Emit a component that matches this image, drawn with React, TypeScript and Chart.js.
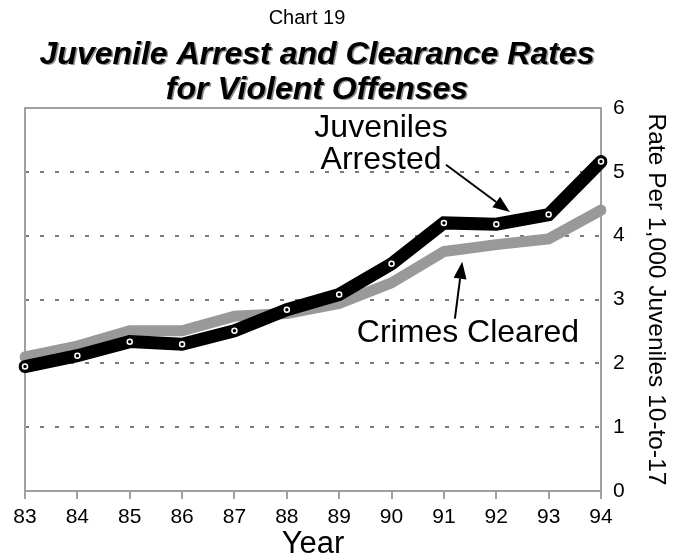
import React, { useEffect, useRef } from 'react';
import { Chart, registerables } from 'chart.js';

Chart.register(...registerables);

// Years (19xx) along the bottom axis
const years = ['83', '84', '85', '86', '87', '88', '89', '90', '91', '92', '93', '94'];

// Rates per 1,000 juveniles aged 10 to 17
const juvenilesArrested = [1.95, 2.12, 2.34, 2.3, 2.51, 2.84, 3.08, 3.56, 4.2, 4.18, 4.33, 5.16];
const crimesCleared = [2.1, 2.27, 2.51, 2.51, 2.74, 2.78, 2.94, 3.26, 3.75, 3.86, 3.95, 4.4];

// Right-hand rate axis
const rateMin = 0;
const rateMax = 6;
const rateStep = 1;

const titleLines = ['Chart 19', 'Juvenile Arrest and Clearance Rates', 'for Violent Offenses'];
const yAxisTitle = 'Rate Per 1,000 Juveniles 10-to-17';
const xAxisTitle = 'Year';
const arrestedLabel = ['Juveniles', 'Arrested'];
const clearedLabel = 'Crimes Cleared';

const FONT = 'Arial, "Liberation Sans", Helvetica, sans-serif';
const FRAME = '#a0a0a0';
const GRID = '#7a7a7a';

function drawArrow(ctx: CanvasRenderingContext2D, x1: number, y1: number, x2: number, y2: number) {
  const ang = Math.atan2(y2 - y1, x2 - x1);
  const head = 17;
  const half = 6.5;
  const bx = x2 - head * Math.cos(ang);
  const by = y2 - head * Math.sin(ang);
  ctx.beginPath();
  ctx.moveTo(x1, y1);
  ctx.lineTo(bx, by);
  ctx.lineWidth = 2;
  ctx.strokeStyle = '#000';
  ctx.stroke();
  ctx.beginPath();
  ctx.moveTo(x2, y2);
  ctx.lineTo(bx + half * Math.sin(ang), by - half * Math.cos(ang));
  ctx.lineTo(bx - half * Math.sin(ang), by + half * Math.cos(ang));
  ctx.closePath();
  ctx.fillStyle = '#000';
  ctx.fill();
}

// Frame around the plot area plus the stacked heading
const framePlugin = {
  id: 'frameAndHeading',
  beforeDatasetsDraw(chart: any) {
    const { ctx, chartArea: a } = chart;
    ctx.save();
    ctx.strokeStyle = FRAME;
    ctx.lineWidth = 2;
    ctx.strokeRect(a.left, a.top, a.right - a.left, a.bottom - a.top);
    ctx.restore();
  },
  afterDraw(chart: any) {
    const { ctx, chartArea: a } = chart;
    const cx = (a.left + a.right) / 2;
    ctx.save();
    ctx.textAlign = 'center';
    ctx.textBaseline = 'middle';
    ctx.fillStyle = '#000';
    ctx.font = `20px ${FONT}`;
    ctx.fillText(titleLines[0], cx - 6, 18);
    ctx.shadowColor = 'rgba(0,0,0,0.45)';
    ctx.shadowOffsetX = 1.5;
    ctx.shadowOffsetY = 1.5;
    ctx.font = `italic bold 32px ${FONT}`;
    ctx.fillText(titleLines[1], cx + 4, 55);
    ctx.fillText(titleLines[2], cx + 4, 90);
    ctx.restore();
  },
};

// Callout labels with arrows pointing at each series
const calloutPlugin = {
  id: 'callouts',
  afterDatasetsDraw(chart: any) {
    const { ctx } = chart;
    const x = chart.scales.x;
    const y = chart.scales.y;
    const px = (i: number) => x.getPixelForValue(i);
    const py = (v: number) => y.getPixelForValue(v);
    ctx.save();
    ctx.fillStyle = '#000';
    ctx.textAlign = 'center';
    ctx.textBaseline = 'middle';
    ctx.font = `32px ${FONT}`;
    ctx.fillText(arrestedLabel[0], px(6.8), py(5.69));
    ctx.fillText(arrestedLabel[1], px(6.8), py(5.19));
    ctx.fillText(clearedLabel, px(8.46), py(2.48));
    drawArrow(ctx, px(8.04), py(5.11), px(9.26), py(4.37));
    drawArrow(ctx, px(8.21), py(2.7), px(8.35), py(3.59));
    ctx.restore();
  },
};

export default function App() {
  const canvasRef = useRef<HTMLCanvasElement | null>(null);

  useEffect(() => {
    const canvas = canvasRef.current;
    if (!canvas) return;
    const chart = new Chart(canvas, {
      type: 'line',
      data: {
        labels: years,
        datasets: [
          {
            label: 'Juveniles Arrested',
            data: juvenilesArrested,
            borderColor: '#000',
            borderWidth: 13,
            borderCapStyle: 'round',
            borderJoinStyle: 'miter',
            tension: 0,
            pointRadius: 2.5,
            pointBorderWidth: 1.5,
            pointBackgroundColor: '#000',
            pointBorderColor: '#fff',
            order: 1,
          },
          {
            label: 'Crimes Cleared',
            data: crimesCleared,
            borderColor: '#999999',
            borderWidth: 11,
            borderCapStyle: 'round',
            borderJoinStyle: 'miter',
            tension: 0,
            pointRadius: 0,
            order: 2,
          },
        ],
      },
      options: {
        animation: false,
        responsive: false,
        maintainAspectRatio: false,
        layout: { padding: { top: 108, left: 25, right: 0, bottom: 0 } },
        plugins: {
          legend: { display: false },
          title: { display: false },
          tooltip: { enabled: false },
        },
        scales: {
          x: {
            offset: false,
            afterFit: (s: any) => {
              s.height = 69;
            },
            grid: {
              drawOnChartArea: false,
              drawTicks: true,
              tickLength: 8,
              color: FRAME,
              lineWidth: 2,
            },
            border: { display: false },
            ticks: {
              color: '#000',
              font: { family: FONT, size: 21 },
              padding: 6,
              maxRotation: 0,
              autoSkip: false,
            },
            title: {
              display: true,
              text: xAxisTitle,
              color: '#000',
              font: { family: FONT, size: 31, lineHeight: 1 },
              padding: { top: 0, bottom: 0 },
            },
          },
          y: {
            position: 'right',
            min: rateMin,
            max: rateMax,
            afterFit: (s: any) => {
              s.width = 73;
            },
            grid: {
              drawTicks: false,
              lineWidth: 2,
              color: (c: any) =>
                c.tick && (c.tick.value === rateMin || c.tick.value === rateMax) ? 'rgba(0,0,0,0)' : GRID,
            },
            border: { display: false, dash: [4, 11] },
            ticks: {
              stepSize: rateStep,
              color: '#000',
              font: { family: FONT, size: 21 },
              padding: 12,
            },
            title: {
              display: true,
              text: yAxisTitle,
              color: '#000',
              font: { family: FONT, size: 24.5, lineHeight: 1 },
              padding: { top: 6, bottom: 6 },
            },
          },
        },
      },
      plugins: [framePlugin, calloutPlugin],
    });
    return () => chart.destroy();
  }, []);

  return (
    <div style={{ position: 'absolute', left: 0, top: 0, width: 674, height: 560, background: '#fff' }}>
      <canvas ref={canvasRef} width={674} height={560} style={{ display: 'block' }} />
    </div>
  );
}
